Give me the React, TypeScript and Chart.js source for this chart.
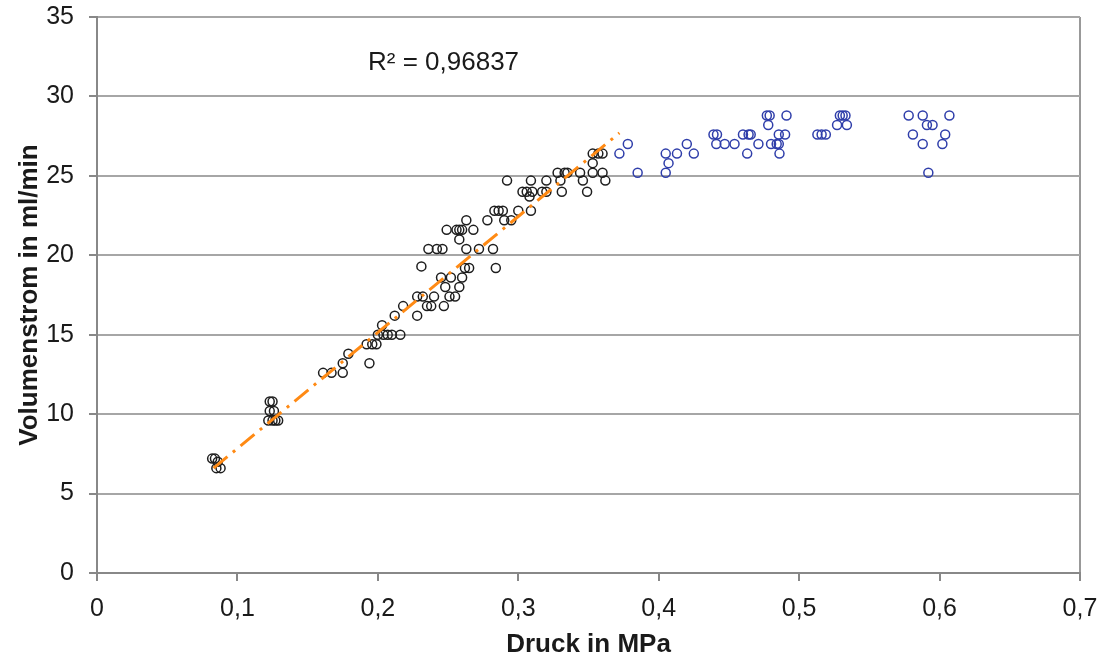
import React, { useEffect, useRef } from "react";
import { Chart, registerables } from "chart.js";
Chart.register(...registerables);

// Druck in MPa (x) / Volumenstrom in ml/min (y) — black series
const blackX = [
  0.082, 0.084, 0.086, 0.085, 0.088,
  0.123, 0.125, 0.123, 0.126, 0.122, 0.125, 0.127, 0.129,
  0.161, 0.167, 0.175, 0.175, 0.179, 0.194, 0.192, 0.196, 0.199,
  0.200, 0.203, 0.204, 0.207, 0.210, 0.216, 0.212, 0.218,
  0.228, 0.228, 0.232, 0.235, 0.238, 0.240, 0.247, 0.251, 0.255,
  0.248, 0.258, 0.245, 0.252, 0.260, 0.262, 0.265, 0.231,
  0.236, 0.242, 0.246, 0.263, 0.272, 0.282, 0.284,
  0.258, 0.249, 0.256, 0.258, 0.260, 0.263, 0.268, 0.278,
  0.283, 0.286, 0.289, 0.290, 0.295, 0.300, 0.308, 0.309,
  0.292, 0.303, 0.306, 0.310, 0.317, 0.320, 0.309, 0.320, 0.330, 0.331,
  0.328, 0.333, 0.335, 0.344, 0.346, 0.349, 0.353, 0.360, 0.362,
  0.353, 0.353, 0.357, 0.360,
];
const blackY = [
  7.2, 7.2, 7.0, 6.6, 6.6,
  10.8, 10.8, 10.2, 10.2, 9.6, 9.6, 9.6, 9.6,
  12.6, 12.6, 12.6, 13.2, 13.8, 13.2, 14.4, 14.4, 14.4,
  15.0, 15.6, 15.0, 15.0, 15.0, 15.0, 16.2, 16.8,
  16.2, 17.4, 17.4, 16.8, 16.8, 17.4, 16.8, 17.4, 17.4,
  18.0, 18.0, 18.6, 18.6, 18.6, 19.2, 19.2, 19.3,
  20.4, 20.4, 20.4, 20.4, 20.4, 20.4, 19.2,
  21.0, 21.6, 21.6, 21.6, 21.6, 22.2, 21.6, 22.2,
  22.8, 22.8, 22.8, 22.2, 22.2, 22.8, 23.7, 22.8,
  24.7, 24.0, 24.0, 24.0, 24.0, 24.0, 24.7, 24.7, 24.7, 24.0,
  25.2, 25.2, 25.2, 25.2, 24.7, 24.0, 25.2, 25.2, 24.7,
  25.8, 26.4, 26.4, 26.4,
];

// blue series
const blueX = [
  0.372, 0.378, 0.385, 0.405, 0.407, 0.405, 0.413, 0.420, 0.425,
  0.439, 0.4415, 0.441, 0.447, 0.454, 0.460, 0.464, 0.4655, 0.463, 0.471,
  0.477, 0.479, 0.478, 0.480, 0.484, 0.4855, 0.4855, 0.490, 0.486, 0.491,
  0.513, 0.516, 0.519, 0.527, 0.529, 0.531, 0.533, 0.534,
  0.578, 0.588, 0.607, 0.591, 0.595, 0.581, 0.604, 0.588, 0.602, 0.592,
];
const blueY = [
  26.4, 27.0, 25.2, 26.4, 25.8, 25.2, 26.4, 27.0, 26.4,
  27.6, 27.6, 27.0, 27.0, 27.0, 27.6, 27.6, 27.6, 26.4, 27.0,
  28.8, 28.8, 28.2, 27.0, 27.0, 27.0, 27.6, 27.6, 26.4, 28.8,
  27.6, 27.6, 27.6, 28.2, 28.8, 28.8, 28.8, 28.2,
  28.8, 28.8, 28.8, 28.2, 28.2, 27.6, 27.6, 27.0, 27.0, 25.2,
];

// linear trend line end points
const trendX = [0.083, 0.372];
const trendY = [6.6, 27.7];

const xTicks = [0, 0.1, 0.2, 0.3, 0.4, 0.5, 0.6, 0.7];
const rSquaredLabel = "R² = 0,96837";
const labelPos = [0.193, 32.1];

const annotationPlugin = {
  id: "rsq",
  afterDatasetsDraw(chart: any) {
    const { ctx, scales } = chart;
    const x = scales.x.getPixelForValue(labelPos[0]);
    const y = scales.y.getPixelForValue(labelPos[1]);
    ctx.save();
    ctx.font = "26px 'Liberation Sans', Arial, sans-serif";
    ctx.fillStyle = "#1a1a1a";
    ctx.textAlign = "left";
    ctx.textBaseline = "middle";
    ctx.fillText(rSquaredLabel, x, y);
    ctx.restore();
  },
};

export default function App() {
  const ref = useRef<HTMLCanvasElement>(null);
  useEffect(() => {
    const chart = new Chart(ref.current as HTMLCanvasElement, {
      type: "scatter",
      data: {
        datasets: [
          {
            data: trendX.map((x, i) => ({ x, y: trendY[i] })),
            type: "line",
            showLine: true,
            borderColor: "#ff8a14",
            borderWidth: 3,
            borderDash: [18, 7, 3, 7],
            pointRadius: 0,
            fill: false,
            order: 0,
          } as any,
          {
            data: blackX.map((x, i) => ({ x, y: blackY[i] })),
            pointRadius: 4.5,
            pointBorderWidth: 1.5,
            borderColor: "#1e1e1e",
            backgroundColor: "rgba(0,0,0,0)",
            order: 1,
          },
          {
            data: blueX.map((x, i) => ({ x, y: blueY[i] })),
            pointRadius: 4.5,
            pointBorderWidth: 1.5,
            borderColor: "#2f3eaa",
            backgroundColor: "rgba(0,0,0,0)",
            order: 1,
          },
        ],
      },
      options: {
        responsive: false,
        animation: false,
        layout: { padding: { left: 0, right: 21, top: 17, bottom: 0 } },
        plugins: { legend: { display: false }, tooltip: { enabled: false } },
        scales: {
          x: {
            type: "linear",
            min: 0,
            max: 0.7,
            afterBuildTicks: (axis: any) => {
              axis.ticks = xTicks.map((v) => ({ value: v }));
            },
            afterFit: (axis: any) => {
              axis.height = 87;
              axis.paddingLeft = 0;
              axis.paddingRight = 0;
            },
            ticks: {
              color: "#1a1a1a",
              font: { family: "'Liberation Sans', Arial, sans-serif", size: 25 },
              padding: 13,
              maxRotation: 0,
              callback: (v: any) => String(Math.round(Number(v) * 10) / 10).replace(".", ","),
            },
            grid: {
              color: (c: any) => (c.index === xTicks.length - 1 ? "#999999" : "rgba(0,0,0,0)"),
              lineWidth: 2,
              tickColor: "#888888",
              tickLength: 8,
            },
            border: { color: "#888888", width: 2 },
            title: {
              display: true,
              text: "Druck in MPa",
              color: "#1a1a1a",
              font: { family: "'Liberation Sans', Arial, sans-serif", size: 26, weight: "bold" },
              padding: { top: 0, bottom: 0 },
            },
          },
          y: {
            type: "linear",
            min: 0,
            max: 35,
            afterFit: (axis: any) => {
              axis.width = 97;
              axis.paddingTop = 0;
              axis.paddingBottom = 0;
            },
            ticks: {
              stepSize: 5,
              color: "#1a1a1a",
              font: { family: "'Liberation Sans', Arial, sans-serif", size: 25 },
              padding: 15,
            },
            grid: {
              color: "#a6a6a6",
              lineWidth: 2,
              tickColor: "#888888",
              tickLength: 8,
            },
            border: { color: "#888888", width: 2 },
            title: {
              display: true,
              text: "Volumenstrom in ml/min",
              color: "#1a1a1a",
              font: { family: "'Liberation Sans', Arial, sans-serif", size: 26, weight: "bold" },
              padding: { top: 14, bottom: 0 },
            },
          },
        },
      },
      plugins: [annotationPlugin],
    });
    return () => chart.destroy();
  }, []);
  return (
    <div style={{ position: "absolute", left: 0, top: 0, width: 1101, height: 660, background: "#fff" }}>
      <canvas ref={ref} width={1101} height={660} style={{ display: "block" }} />
    </div>
  );
}
